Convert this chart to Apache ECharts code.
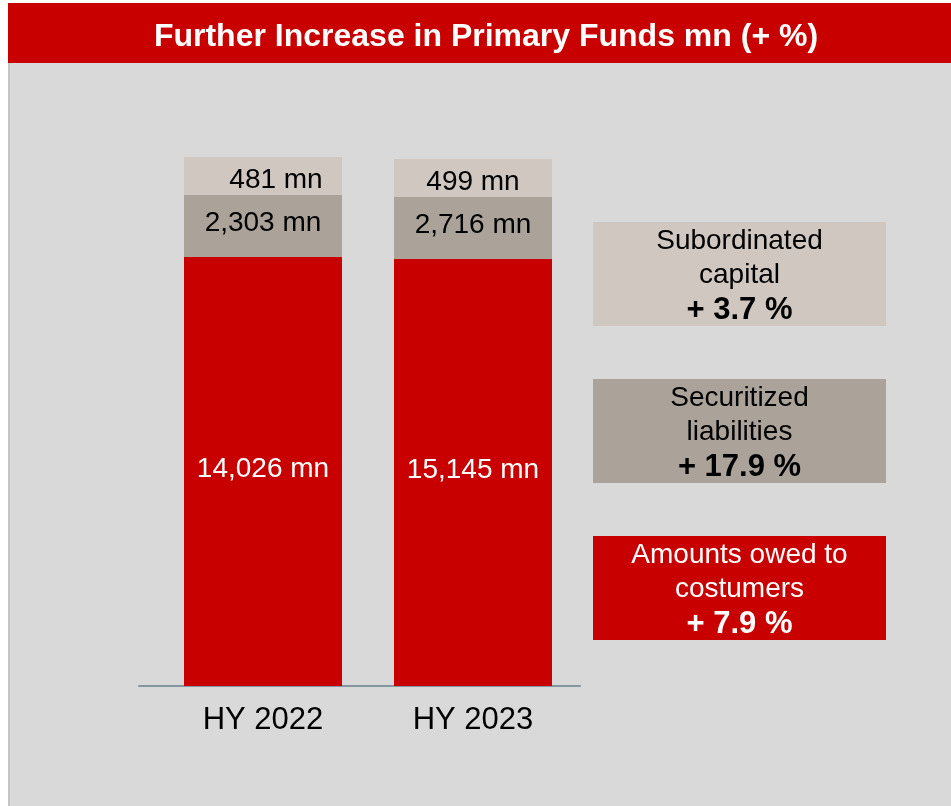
<!DOCTYPE html>
<html>
<head>
<meta charset="utf-8">
<title>Further Increase in Primary Funds</title>
<script src="https://cdn.jsdelivr.net/npm/echarts@6/dist/echarts.min.js"></script>
<style>
  html, body { margin: 0; padding: 0; background: #fff; }
  #chart { width: 951px; height: 806px; }
</style>
</head>
<body>
<div id="chart"></div>
<script>
// periods on the x axis
const periods = ['HY 2022', 'HY 2023'];

// reported values (mn) shown as labels
const amountsOwed = [14026, 15145];
const securitized = [2303, 2716];
const subordinated = [481, 499];

// segment heights as drawn in the slide (not to scale with the values)
const amountsOwedHeight = [429, 427];
const securitizedHeight = [62, 62];
const subordinatedHeight = [38, 38];

// side boxes: top to bottom
const boxLines = [['Subordinated', 'capital'], ['Securitized', 'liabilities'], ['Amounts owed to', 'costumers']];
const growthPct = [3.7, 17.9, 7.9];

const RED = '#c80000';
const LIGHT = '#d0c7c1';
const MID = '#aba39a';
const FONT = '"Liberation Sans", Arial, sans-serif';

const fmt = v => v.toLocaleString('en-US') + ' mn';

function segLabel(values, color, offset) {
  return {
    show: true,
    position: 'inside',
    color: color,
    fontSize: 28,
    fontFamily: FONT,
    offset: offset,
    formatter: p => fmt(values[p.dataIndex])
  };
}

// right hand boxes
const boxColors = [LIGHT, MID, RED];
const boxText = ['#000', '#000', '#fff'];
const boxTops = [222, 379, 536];
const boxes = [];
boxLines.forEach((lines, i) => {
  const top = boxTops[i];
  boxes.push({
    type: 'rect', z: 5,
    shape: { x: 593, y: top, width: 293, height: 104 },
    style: { fill: boxColors[i] }
  });
  lines.forEach((t, j) => {
    boxes.push({
      type: 'text', z: 6,
      style: {
        text: t, x: 739.5, y: top + 19 + j * 34,
        textAlign: 'center', textVerticalAlign: 'middle',
        font: '28px ' + FONT, fill: boxText[i]
      }
    });
  });
  boxes.push({
    type: 'text', z: 6,
    style: {
      text: '+ ' + growthPct[i].toFixed(1) + ' %', x: 739.5, y: top + 88,
      textAlign: 'center', textVerticalAlign: 'middle',
      font: 'bold 31px ' + FONT, fill: boxText[i]
    }
  });
});

const option = {
  backgroundColor: '#fff',
  animation: false,
  title: {
    text: 'Further Increase in Primary Funds mn (+ %)',
    left: 481,
    textAlign: 'center',
    top: 15,
    textStyle: { color: '#fff', fontSize: 32, fontWeight: 'bold', fontFamily: FONT, lineHeight: 34 }
  },
  graphic: [
    {
      type: 'rect', z: -10,
      shape: { x: 8, y: 63, width: 943, height: 743 },
      style: { fill: '#d9d9d9' }
    },
    {
      type: 'rect', z: -9,
      shape: { x: 8, y: 63, width: 2, height: 743 },
      style: { fill: '#c4c4c4' }
    },
    {
      type: 'rect', z: -9,
      shape: { x: 8, y: 3, width: 943, height: 60 },
      style: { fill: RED }
    }
  ].concat(boxes),
  grid: [
    { left: 158, right: 373, top: 86, bottom: 120 },
    { left: 139, right: 371, top: 86, bottom: 120 }
  ],
  xAxis: [
    {
      type: 'category',
      gridIndex: 0,
      data: periods,
      axisLine: { show: false },
      axisTick: { show: false },
      axisLabel: { color: '#000', fontSize: 31, lineHeight: 31, fontFamily: FONT, margin: 19 }
    },
    {
      type: 'value',
      gridIndex: 1,
      min: 0, max: 1,
      axisLine: { show: true, lineStyle: { color: '#8497a0', width: 2 } },
      axisTick: { show: false },
      axisLabel: { show: false },
      splitLine: { show: false }
    }
  ],
  yAxis: [
    { type: 'value', gridIndex: 0, min: 0, max: 600, show: false },
    { type: 'value', gridIndex: 1, min: 0, max: 600, show: false }
  ],
  series: [
    {
      name: 'Amounts owed to costumers',
      type: 'bar', stack: 'funds', barWidth: 158, z: 3,
      itemStyle: { color: RED },
      label: segLabel(amountsOwed, '#fff', [0, -2]),
      data: amountsOwedHeight
    },
    {
      name: 'Securitized liabilities',
      type: 'bar', stack: 'funds', barWidth: 158, z: 3,
      itemStyle: { color: MID },
      label: segLabel(securitized, '#000', [0, -3]),
      data: securitizedHeight
    },
    {
      name: 'Subordinated capital',
      type: 'bar', stack: 'funds', barWidth: 158, z: 3,
      itemStyle: { color: LIGHT },
      label: segLabel(subordinated, '#000', [0, 4]),
      data: subordinatedHeight.map((v, i) => i === 0 ? { value: v, label: { offset: [13, 4] } } : v)
    }
  ]
};

const myChart = echarts.init(document.getElementById('chart'));
myChart.setOption(option);
</script>
</body>
</html>
